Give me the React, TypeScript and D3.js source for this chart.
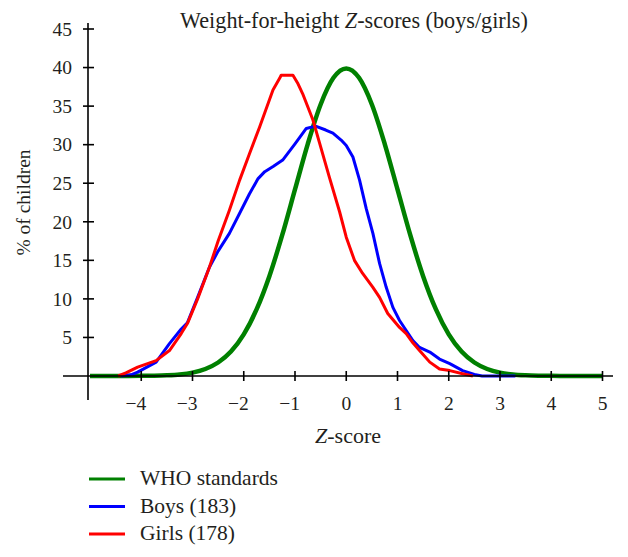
import React from "react";
import * as d3 from "d3";

const xTicks = [-4, -3, -2, -1, 0, 1, 2, 3, 4, 5];
const yTicks = [5, 10, 15, 20, 25, 30, 35, 40, 45];

// WHO standards (read at 0.25 z steps from -5 to 5)
const whoZ = [-5, -4.75, -4.5, -4.25, -4, -3.75, -3.5, -3.25, -3, -2.75, -2.5, -2.25, -2, -1.75, -1.5, -1.25, -1, -0.75, -0.5, -0.25, 0,
  0.25, 0.5, 0.75, 1, 1.25, 1.5, 1.75, 2, 2.25, 2.5, 2.75, 3, 3.25, 3.5, 3.75, 4, 4.25, 4.5, 4.75, 5];
const whoV = [0, 0, 0, 0.01, 0.02, 0.04, 0.09, 0.2, 0.44, 0.91, 1.75, 3.17, 5.4, 8.63, 12.95, 18.26, 24.2, 30.11, 35.21, 38.67, 39.89,
  38.67, 35.21, 30.11, 24.2, 18.26, 12.95, 8.63, 5.4, 3.17, 1.75, 0.91, 0.44, 0.2, 0.09, 0.04, 0.02, 0.01, 0, 0, 0];

// Boys (183)
const boysZ = [-4.4, -4.2, -4.07, -3.71, -3.45, -3.22, -3.1, -2.9, -2.67, -2.5, -2.28, -2.08, -1.89, -1.72, -1.59, -1.42, -1.24, -1.0, -0.78, -0.6, -0.4, -0.26, -0.1, 0, 0.13, 0.26, 0.39, 0.52, 0.65, 0.78, 0.91, 1.04, 1.17, 1.3, 1.43, 1.63, 1.82, 2.02, 2.27, 2.5, 2.65, 3.3];
const boysV = [0, 0.15, 0.5, 1.8, 4.2, 6.1, 6.9, 10.2, 14.1, 16.2, 18.5, 21.1, 23.6, 25.6, 26.5, 27.2, 28.0, 30.1, 32.1, 32.4, 31.9, 31.5, 30.6, 29.9, 28.4, 25.4, 21.7, 18.5, 14.6, 11.5, 8.9, 7.2, 5.9, 4.6, 3.7, 3.1, 2.2, 1.6, 0.7, 0.2, 0, 0];

// Girls (178)
const girlsZ = [-4.45, -4.3, -4.07, -3.71, -3.45, -3.22, -3.1, -2.9, -2.67, -2.5, -2.28, -2.08, -1.89, -1.69, -1.43, -1.3, -1.27, -1.04, -0.95, -0.85, -0.65, -0.52, -0.33, -0.13, 0, 0.16, 0.32, 0.52, 0.65, 0.81, 1.04, 1.17, 1.3, 1.43, 1.63, 1.82, 2.02, 2.27, 2.47];
const girlsV = [0, 0.4, 1.15, 2.0, 3.3, 5.5, 6.8, 10.0, 14.1, 17.5, 21.5, 25.4, 28.8, 32.3, 37.1, 38.6, 39.0, 39.0, 38.0, 36.6, 33.2, 30.2, 25.8, 21.3, 18.0, 15.0, 13.3, 11.5, 10.2, 8.1, 6.3, 5.5, 4.3, 3.3, 1.8, 0.9, 0.7, 0.3, 0];

const legendLabels = ["WHO standards", "Boys (183)", "Girls (178)"];
const legendColors = ["#008000", "#0000ff", "#ff0000"];

const W = 628;
const H = 557;
const FONT = "'Liberation Serif', 'Times New Roman', serif";

export default function App() {
  const x = d3.scaleLinear().domain([-5, 5]).range([90, 602.5]);
  const y = d3.scaleLinear().domain([0, 45]).range([376, 29]);
  const axisX = 88;

  const line = d3
    .line<[number, number]>()
    .x((d) => x(d[0]))
    .y((d) => y(d[1]));
  const smooth = d3
    .line<[number, number]>()
    .x((d) => x(d[0]))
    .y((d) => y(d[1]))
    .curve(d3.curveMonotoneX);

  const who = whoZ.map((z, i) => [z, whoV[i]] as [number, number]);
  const boys = boysZ.map((z, i) => [z, boysV[i]] as [number, number]);
  const girls = girlsZ.map((z, i) => [z, girlsV[i]] as [number, number]);

  return (
    <svg
      width={W}
      height={H}
      style={{ position: "absolute", left: 0, top: 0, background: "#fff" }}
      fontFamily={FONT}
    >
      <text x={354} y={28} fontSize={22.2} textAnchor="middle" fill="#231f20">
        Weight-for-height <tspan fontStyle="italic">Z</tspan>-scores (boys/girls)
      </text>

      {/* curves */}
      <path d={smooth(who) || ""} fill="none" stroke="#008000" strokeWidth={4.5} strokeLinejoin="round" />
      <path d={line(boys) || ""} fill="none" stroke="#0000ff" strokeWidth={3} strokeLinejoin="round" />
      <path d={line(girls) || ""} fill="none" stroke="#ff0000" strokeWidth={3} strokeLinejoin="round" />

      {/* axes */}
      <line x1={axisX} x2={axisX} y1={23} y2={400} stroke="#000" strokeWidth={1.6} />
      <line x1={63} x2={613} y1={y(0)} y2={y(0)} stroke="#000" strokeWidth={1.6} />
      {yTicks.map((t) => (
        <g key={"y" + t}>
          <line x1={axisX - 5} x2={axisX + 6} y1={y(t)} y2={y(t)} stroke="#000" strokeWidth={1.6} />
          <text x={72} y={y(t)} dy="0.35em" fontSize={19.5} textAnchor="end" fill="#231f20">
            {t}
          </text>
        </g>
      ))}
      {xTicks.map((t) => (
        <g key={"x" + t}>
          <line x1={x(t)} x2={x(t)} y1={y(0) - 5} y2={y(0) + 5} stroke="#000" strokeWidth={1.6} />
          <text
            x={t < 0 ? x(t) + 5 : x(t)}
            y={410}
            fontSize={19.5}
            textAnchor={t < 0 ? "end" : "middle"}
            fill="#231f20"
          >
            {t < 0 ? "\u2212" + Math.abs(t) : String(t)}
          </text>
        </g>
      ))}

      <text x={348} y={443} fontSize={22} textAnchor="middle" fill="#231f20">
        <tspan fontStyle="italic">Z</tspan>-score
      </text>
      <text
        transform={`translate(30,${y(22.5)}) rotate(-90)`}
        fontSize={19.5}
        textAnchor="middle"
        fill="#231f20"
      >
        % of children
      </text>

      {/* legend */}
      {legendLabels.map((lab, i) => (
        <g key={lab}>
          <line x1={89} x2={125} y1={479 + i * 27.5} y2={479 + i * 27.5} stroke={legendColors[i]} strokeWidth={3} />
          <text x={140} y={485 + i * 27.5} fontSize={21.5} fill="#231f20">
            {lab}
          </text>
        </g>
      ))}
    </svg>
  );
}
